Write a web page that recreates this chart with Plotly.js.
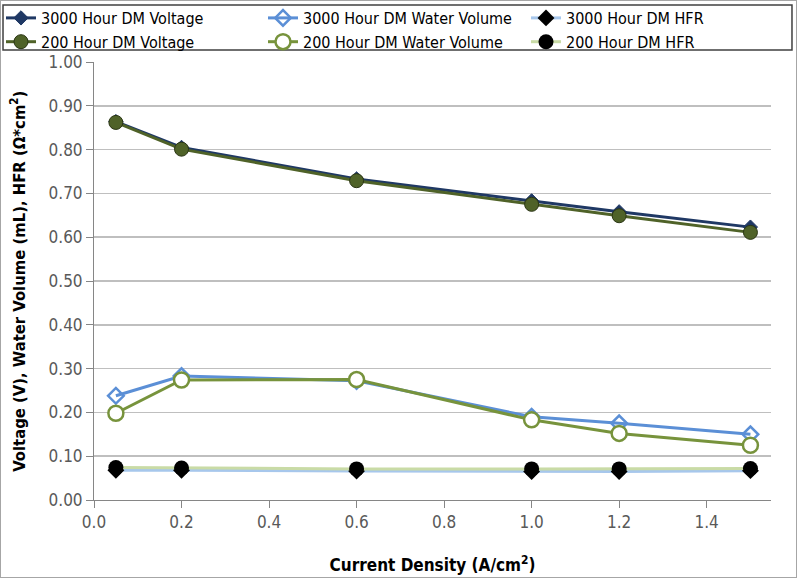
<!DOCTYPE html>
<html><head><meta charset="utf-8">
<script src="https://cdn.plot.ly/plotly-3.0.1.min.js"></script>
<style>
html,body{margin:0;padding:0;background:#fff;}
#chart{width:797px;height:578px;box-sizing:border-box;border:1px solid #a6a6a6;}
</style></head>
<body><div id="chart"></div>
<script>
const currentDensity = [0.05, 0.2, 0.6, 1.0, 1.2, 1.5];
const voltage3000 = [0.864, 0.805, 0.733, 0.683, 0.658, 0.623];
const voltage200  = [0.862, 0.801, 0.729, 0.675, 0.649, 0.611];
const water3000   = [0.238, 0.283, 0.272, 0.190, 0.175, 0.150];
const water200    = [0.198, 0.274, 0.275, 0.183, 0.152, 0.125];
const hfr3000     = [0.068, 0.068, 0.066, 0.065, 0.065, 0.067];
const hfr200      = [0.074, 0.073, 0.071, 0.071, 0.071, 0.072];
const names = ["3000 Hour DM Voltage","3000 Hour DM Water Volume","3000 Hour DM HFR",
               "200 Hour DM Voltage","200 Hour DM Water Volume","200 Hour DM HFR"];
const xTitle = "Current Density (A/cm<sup>2</sup>)";
const yTitle = "Voltage (V), Water Volume (mL), HFR (Ω*cm<sup>2</sup>)";

const traces = [
 {x: currentDensity, y: voltage3000, name: names[0], legend:"legend", mode:"lines+markers",
  line:{color:"#1F3864", width:3}, marker:{symbol:"diamond", size:11, color:"#1F3864", line:{color:"#1F3864", width:1}}},
 {x: currentDensity, y: voltage200, name: names[3], legend:"legend", mode:"lines+markers",
  line:{color:"#4F6228", width:3}, marker:{symbol:"circle", size:14, color:"#4F6228", line:{color:"#2a3514", width:1}}},
 {x: currentDensity, y: water3000, name: names[1], legend:"legend2", mode:"lines+markers",
  line:{color:"#5B8FD6", width:3}, marker:{symbol:"diamond-open", size:12, color:"#5B8FD6", line:{width:2.5}}},
 {x: currentDensity, y: water200, name: names[4], legend:"legend2", mode:"lines+markers",
  line:{color:"#77933C", width:3}, marker:{symbol:"circle", size:15, color:"#ffffff", line:{color:"#77933C", width:2.5}}},
 {x: currentDensity, y: hfr3000, name: names[2], legend:"legend3", mode:"lines+markers",
  line:{color:"#A7C7EC", width:3}, marker:{symbol:"diamond", size:13, color:"#000000"}},
 {x: currentDensity, y: hfr200, name: names[5], legend:"legend3", mode:"lines+markers",
  line:{color:"#C9DBA6", width:3}, marker:{symbol:"circle", size:15, color:"#000000"}}
];

const fontFam = "'DejaVu Sans Condensed', 'Liberation Sans Narrow', Arial, sans-serif";
function leg(px){
  return {orientation:"v", x:px/795, xref:"container", y:1.0, yref:"container", yanchor:"top", xanchor:"left",
          borderwidth:0, bgcolor:"rgba(0,0,0,0)", tracegroupgap:0, itemwidth:30,
          font:{family:fontFam, size:16, color:"#000"}};
}
const layout = {
  width: 795, height: 576,
  margin:{l:93, r:25, t:61, b:77, autoexpand:false},
  paper_bgcolor:"#ffffff", plot_bgcolor:"#ffffff",
  font:{family: fontFam, size:14, color:"#404040"},
  showlegend:true,
  legend: leg(0), legend2: leg(262), legend3: leg(525),
  shapes:[{type:"rect", xref:"paper", yref:"paper", x0:-0.1344, x1:1.031, y0:1.0274, y1:1.130,
           line:{color:"#404040", width:1.5}, fillcolor:"rgba(0,0,0,0)", layer:"below"}],
  annotations:[{text:"<b>"+yTitle+"</b>", xref:"paper", yref:"paper", x:-0.1125, y:0.5,
                xanchor:"center", yanchor:"middle", textangle:-90, showarrow:false,
                font:{family:fontFam, size:16.5, color:"#000"}}],
  xaxis:{range:[0,1.547], tickvals:[0,0.2,0.4,0.6,0.8,1.0,1.2,1.4], tickformat:".1f",
         showgrid:false, showline:true, linecolor:"#868686", linewidth:1,
         ticks:"outside", ticklen:7, tickcolor:"#868686", zeroline:false,
         tickfont:{size:17, color:"#595959"},
         title:{text:"<b>"+xTitle+"</b>", font:{size:17, color:"#000"}, standoff:27}},
  yaxis:{range:[0,1.0], dtick:0.1, tickformat:".2f", showgrid:true, gridcolor:"#BFBFBF", gridwidth:1.5,
         showline:true, linecolor:"#868686", linewidth:1, ticks:"outside", ticklen:7, tickcolor:"#868686",
         zeroline:false, tickfont:{size:17, color:"#595959"}}
};
Plotly.newPlot("chart", traces, layout, {displayModeBar:false, staticPlot:true});
</script></body></html>
